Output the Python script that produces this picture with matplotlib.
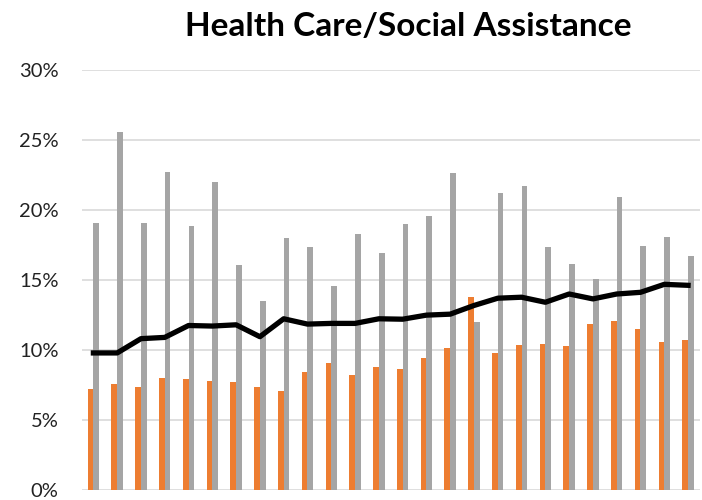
import matplotlib
matplotlib.use("Agg")
import matplotlib.pyplot as plt
import numpy as np

# values in percent
orange_vals = [7.18, 7.56, 7.39, 7.99, 7.91, 7.80, 7.73, 7.39, 7.06, 8.46, 9.08, 8.22, 8.82,
               8.63, 9.41, 10.14, 13.79, 9.79, 10.38, 10.45, 10.26, 11.85, 12.04, 11.49, 10.57, 10.73]
gray_vals = [19.08, 25.57, 19.05, 22.68, 18.84, 21.97, 16.07, 13.48, 18.03, 17.35, 14.60, 18.27, 16.92,
             18.98, 19.55, 22.65, 11.99, 21.21, 21.68, 17.39, 16.11, 15.07, 20.92, 17.44, 18.08, 16.75]
line_vals = [9.79, 9.79, 10.81, 10.90, 11.75, 11.71, 11.80, 10.95, 12.23, 11.85, 11.90, 11.90, 12.23,
             12.20, 12.49, 12.56, 13.18, 13.70, 13.77, 13.41, 14.00, 13.65, 14.00, 14.12, 14.69, 14.62]
y_ticks = [0, 5, 10, 15, 20, 25, 30]

plt.rcParams['font.family'] = ['Lato', 'DejaVu Sans']

fig = plt.figure(figsize=(7.02, 5.0), dpi=100)
ax = fig.add_axes([0.1161, 0.02, 0.881, 0.84])

x = np.arange(len(orange_vals))
w = 0.24
ax.bar(x - w / 2, orange_vals, width=w, color="#ED7D31", zorder=2)
ax.bar(x + w / 2, gray_vals, width=w, color="#A5A5A5", zorder=2)
ax.plot(x, line_vals, color="black", linewidth=3.8, solid_joinstyle="round", zorder=3)

ax.set_xlim(-0.5, len(orange_vals) - 0.5)
ax.set_ylim(0, 30)
ax.set_yticks(y_ticks)
ax.set_yticklabels([f"{t}%" for t in y_ticks], fontsize=14.5, color="#222222")
ax.set_xticks([])
ax.tick_params(axis="y", length=0, pad=16.5)
ax.yaxis.grid(True, color="#D9D9D9", linewidth=1.2, zorder=0)
ax.set_axisbelow(True)
for s in ax.spines.values():
    s.set_visible(False)

fig.text(0.582, 0.948, "Health Care/Social Assistance", ha="center", va="center",
         fontsize=24, fontweight="bold", color="black")

fig.savefig("out.png", dpi=100)
